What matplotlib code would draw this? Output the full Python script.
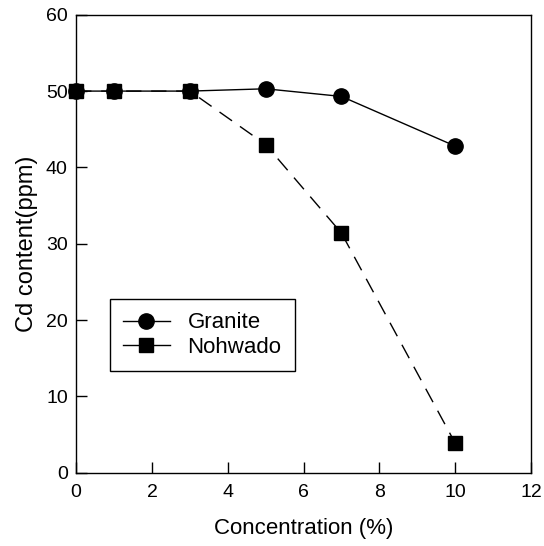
import matplotlib
matplotlib.use("Agg")
import matplotlib.pyplot as plt
from matplotlib.lines import Line2D

plt.rcParams["font.family"] = ["Liberation Sans", "DejaVu Sans"]

conc = [0, 1, 3, 5, 7, 10]
granite = [50.0, 50.0, 50.0, 50.3, 49.3, 42.8]
nohwado = [50.0, 50.0, 50.0, 43.0, 31.4, 3.9]
x_ticks = [0, 2, 4, 6, 8, 10, 12]
y_ticks = [0, 10, 20, 30, 40, 50, 60]

fig = plt.figure(figsize=(5.44, 5.46), dpi=100)
ax = fig.add_axes([0.14, 0.134, 0.836, 0.839])

ax.plot(conc, nohwado, color="black", lw=1.0, ls=(0, (11, 7)),
        marker="s", ms=10, clip_on=False, zorder=3)
ax.plot(conc, granite, color="black", lw=1.0, marker="o", ms=11,
        clip_on=False, zorder=4)

ax.set_xlim(0, 12)
ax.set_ylim(0, 60)
ax.set_xticks(x_ticks)
ax.set_yticks(y_ticks)
ax.tick_params(direction="in", length=8, width=1, labelsize=14)
ax.tick_params(axis="x", pad=8)
ax.tick_params(axis="y", pad=6)
for s in ax.spines.values():
    s.set_linewidth(1)

ax.set_xlabel("Concentration (%)", fontsize=16, labelpad=12)
ax.set_ylabel("Cd content(ppm)", fontsize=17, labelpad=6)

handles = [Line2D([], [], color="black", lw=1.0, marker="o", ms=11),
           Line2D([], [], color="black", lw=1.0, marker="s", ms=10)]
leg = ax.legend(handles, ["Granite", "Nohwado"], loc="lower left",
                bbox_to_anchor=(0.074, 0.222), fontsize=16, fancybox=False,
                edgecolor="black", framealpha=1, handlelength=2.1,
                borderpad=0.6, labelspacing=0.15, handletextpad=0.8,
                borderaxespad=0)
leg.get_frame().set_linewidth(1)

fig.savefig("out.png", dpi=100)
